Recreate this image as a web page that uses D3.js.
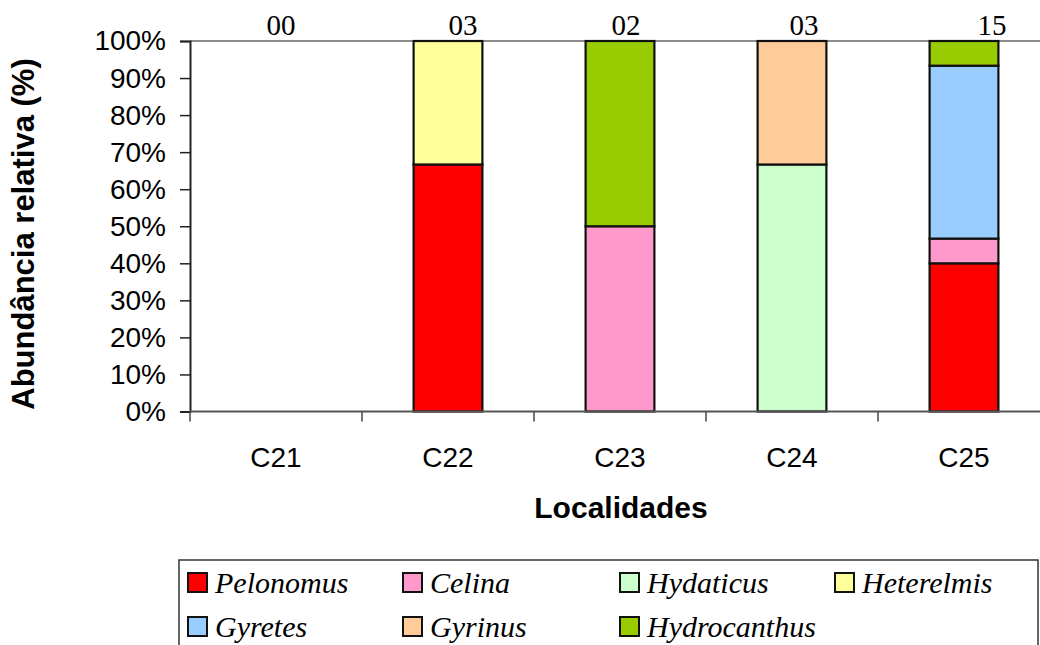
<!DOCTYPE html>
<html>
<head>
<meta charset="utf-8">
<script src="https://cdn.jsdelivr.net/npm/d3@7/dist/d3.min.js"></script>
<style>
  html, body { margin: 0; padding: 0; background: #fff; overflow: hidden; }
  svg { display: block; }
</style>
</head>
<body>
<svg id="chart" width="1040" height="645"></svg>
<script>
// Localities sampled
const localidades = ["C21", "C22", "C23", "C24", "C25"];

// Genera (stack order, bottom to top) and their fill colours
const generos = ["Pelonomus", "Celina", "Hydaticus", "Heterelmis", "Gyretes", "Gyrinus", "Hydrocanthus"];
const cores = ["#FF0000", "#FF99CC", "#CCFFCC", "#FFFF99", "#99CCFF", "#FFCC99", "#99CC00"];

// Individuals collected per genus, one value per locality (C21..C25)
const pelonomus    = [0, 2, 0, 0, 6];
const celina       = [0, 0, 1, 0, 1];
const hydaticus    = [0, 0, 0, 2, 0];
const heterelmis   = [0, 1, 0, 0, 0];
const gyretes      = [0, 0, 0, 0, 7];
const gyrinus      = [0, 0, 0, 1, 0];
const hydrocanthus = [0, 0, 1, 0, 1];

// Percentage axis ticks
const yTicks = [0, 0.1, 0.2, 0.3, 0.4, 0.5, 0.6, 0.7, 0.8, 0.9, 1.0];

// Horizontal nudges (px) of the total labels above each column
const totalNudge = [5, 15, 6, 12, 28];

const series = [pelonomus, celina, hydaticus, heterelmis, gyretes, gyrinus, hydrocanthus];

const table = localidades.map((loc, i) => {
  const row = { loc };
  generos.forEach((g, k) => { row[g] = series[k][i]; });
  return row;
});
const totals = localidades.map((loc, i) => d3.sum(series, s => s[i]));

const svg = d3.select("#chart");

const plot = { left: 190, right: 1050, top: 41, bottom: 411.5 };

const x = d3.scaleBand()
  .domain(localidades)
  .range([plot.left, plot.right])
  .paddingInner(0.6)
  .paddingOuter(0.3);

const y = d3.scaleLinear()
  .domain([0, 1])
  .range([plot.bottom, plot.top]);

const color = d3.scaleOrdinal().domain(generos).range(cores);

const stacked = d3.stack()
  .keys(generos)
  .offset(d3.stackOffsetExpand)(table);

// Plot-area top border
svg.append("line")
  .attr("x1", plot.left).attr("x2", plot.right)
  .attr("y1", plot.top).attr("y2", plot.top)
  .attr("stroke", "#8c8c8c").attr("stroke-width", 2);

// Stacked columns
const layers = svg.append("g").selectAll("g")
  .data(stacked)
  .join("g")
  .attr("fill", d => color(d.key));

layers.selectAll("rect")
  .data(d => d.filter(seg => seg[1] - seg[0] > 0))
  .join("rect")
  .attr("x", d => x(d.data.loc))
  .attr("width", x.bandwidth())
  .attr("y", d => y(d[1]))
  .attr("height", d => y(d[0]) - y(d[1]))
  .attr("stroke", "#111")
  .attr("stroke-width", 2.2);

// Y axis
const yAxis = d3.axisLeft(y)
  .tickValues(yTicks)
  .tickFormat(d3.format(".0%"))
  .tickSize(10)
  .tickPadding(14);

const gy = svg.append("g")
  .attr("transform", `translate(${plot.left},0)`)
  .call(yAxis);
gy.select(".domain").attr("stroke", "#222").attr("stroke-width", 2);
gy.selectAll(".tick line").attr("stroke", "#222").attr("stroke-width", 1.5);
gy.selectAll(".tick text")
  .attr("font-family", "Liberation Sans, Arial, sans-serif")
  .attr("font-size", 28)
  .attr("fill", "#000");

// X axis baseline with ticks between categories
svg.append("line")
  .attr("x1", plot.left).attr("x2", plot.right)
  .attr("y1", plot.bottom).attr("y2", plot.bottom)
  .attr("stroke", "#555").attr("stroke-width", 2);

const halfGap = x.step() * x.paddingInner() / 2;
svg.append("g").selectAll("line")
  .data(localidades)
  .join("line")
  .attr("x1", d => x(d) - halfGap)
  .attr("x2", d => x(d) - halfGap)
  .attr("y1", plot.bottom)
  .attr("y2", plot.bottom + 10)
  .attr("stroke", "#444")
  .attr("stroke-width", 1.5);

svg.append("g").selectAll("text")
  .data(localidades)
  .join("text")
  .attr("x", d => x(d) + x.bandwidth() / 2)
  .attr("y", 467)
  .attr("text-anchor", "middle")
  .attr("font-family", "Liberation Sans, Arial, sans-serif")
  .attr("font-size", 28)
  .text(d => d);

// Totals above the columns
svg.append("g").selectAll("text")
  .data(localidades)
  .join("text")
  .attr("x", (d, i) => x(d) + x.bandwidth() / 2 + totalNudge[i])
  .attr("y", 35)
  .attr("text-anchor", "middle")
  .attr("font-family", "Liberation Serif, Times New Roman, serif")
  .attr("font-size", 29)
  .text((d, i) => d3.format("02d")(totals[i]));

// Axis titles
svg.append("text")
  .attr("transform", "translate(34,234) rotate(-90)")
  .attr("text-anchor", "middle")
  .attr("font-family", "Liberation Sans, Arial, sans-serif")
  .attr("font-weight", "bold")
  .attr("font-size", 31)
  .text("Abundância relativa (%)");

svg.append("text")
  .attr("x", 621)
  .attr("y", 518)
  .attr("text-anchor", "middle")
  .attr("font-family", "Liberation Sans, Arial, sans-serif")
  .attr("font-weight", "bold")
  .attr("font-size", 30)
  .text("Localidades");

// Legend
const legend = svg.append("g");
legend.append("rect")
  .attr("x", 179).attr("y", 560)
  .attr("width", 859).attr("height", 120)
  .attr("fill", "#fff")
  .attr("stroke", "#333").attr("stroke-width", 1.5);

const colX = [188, 403, 620, 835];
const rowY = [573, 617];
const items = legend.selectAll("g.item")
  .data(generos)
  .join("g")
  .attr("class", "item")
  .attr("transform", (d, i) => `translate(${colX[i % 4]},${rowY[Math.floor(i / 4)]})`);

items.append("rect")
  .attr("width", 19).attr("height", 19)
  .attr("fill", d => color(d))
  .attr("stroke", "#111").attr("stroke-width", 2);

items.append("text")
  .attr("x", 27)
  .attr("y", 20)
  .attr("font-family", "Liberation Serif, Times New Roman, serif")
  .attr("font-style", "italic")
  .attr("font-size", 30)
  .text(d => d);
</script>
</body>
</html>
